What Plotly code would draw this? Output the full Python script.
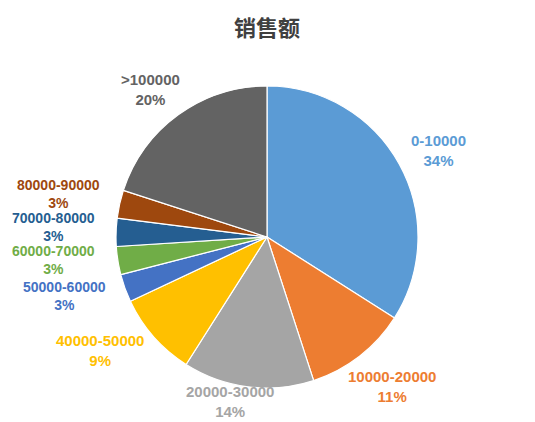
import plotly.graph_objects as go

categories = ["0-10000", "10000-20000", "20000-30000", "40000-50000", "50000-60000",
              "60000-70000", "70000-80000", "80000-90000", ">100000"]
values = [34, 11, 14, 9, 3, 3, 3, 3, 20]
colors = ["#5B9BD5", "#ED7D31", "#A5A5A5", "#FFC000", "#4472C4",
          "#70AD47", "#255E91", "#9E480E", "#636363"]

# label centers in pixels and font sizes (layout, not data)
label_px = [(438, 150), (392, 386), (230, 401), (100, 350), (64, 296),
            (53, 260), (53, 227), (58, 194), (150, 89)]
label_size = [15, 15, 15, 15, 14, 14, 14, 14, 15]

W, H = 535, 422
cx, cy, r = 267, 237, 151

fig = go.Figure(go.Pie(
    labels=categories, values=values, sort=False, direction="clockwise", rotation=0,
    marker=dict(colors=colors, line=dict(color="white", width=1.2)),
    textinfo="none", hoverinfo="label+percent",
    domain=dict(x=[(cx - r) / W, (cx + r) / W], y=[1 - (cy + r) / H, 1 - (cy - r) / H]),
    showlegend=False,
))

total = sum(values)
anns = []
for cat, v, col, (px, py), fs in zip(categories, values, colors, label_px, label_size):
    anns.append(dict(
        x=px / W, y=1 - py / H, xref="paper", yref="paper", xanchor="center", yanchor="middle",
        text=f"<b>{cat}<br>{round(v / total * 100)}%</b>", showarrow=False,
        font=dict(family="Liberation Sans, Arial", size=fs, color=col),
    ))
anns.append(dict(
    x=267 / W, y=1 - 26 / H, xref="paper", yref="paper", xanchor="center", yanchor="middle",
    text="<b>销售额</b>", showarrow=False,
    font=dict(family="Noto Sans CJK SC", size=22, color="#404040"),
))

fig.update_layout(
    width=W, height=H, margin=dict(l=0, r=0, t=0, b=0),
    paper_bgcolor="white", plot_bgcolor="white", annotations=anns,
)
fig.write_html("out.html")
